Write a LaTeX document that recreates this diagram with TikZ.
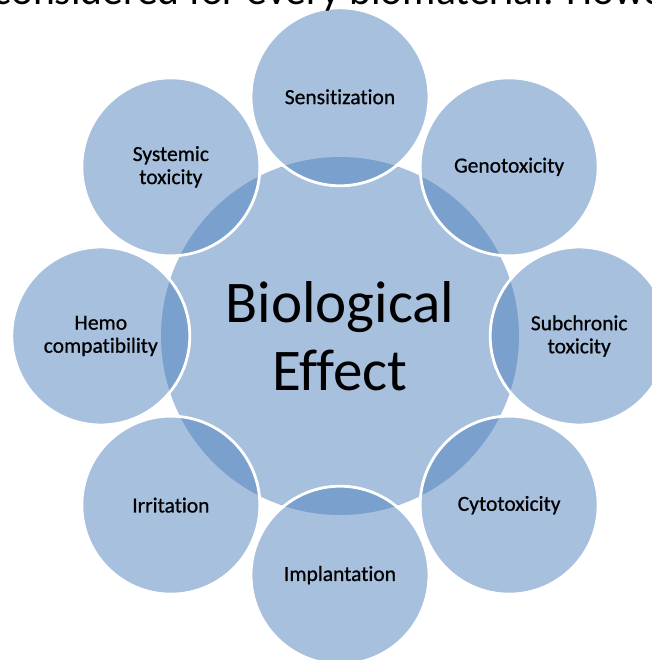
\documentclass[tikz,border=0pt]{standalone}
\usepackage{fontspec}
\setmainfont{Carlito}[Ligatures=NoCommon]
\newfontfamily\labelfont{Carlito}[Ligatures=NoCommon,RawFeature={embolden=0.7}]
\usetikzlibrary{positioning}
\definecolor{accent}{RGB}{79,129,189}
\tikzset{
    hub/.style =    {circle,
                    fill=accent!50!white,
                    draw=none,
                    text=black,
                    align=center,
                    minimum size=8.95cm,
                    font=\fontsize{42}{48}\selectfont},
    test/.style =   {circle,
                    fill=accent,
                    fill opacity=0.5,
                    text opacity=1,
                    draw=white,
                    line width=2pt,
                    text=black,
                    align=center,
                    minimum size=4.45cm,
                    font=\labelfont\fontsize{15.3}{16.4}\selectfont},
    running/.style = {anchor=base west,
                    inner sep=0pt,
                    text=black,
                    font=\fontsize{29.6}{34}\selectfont}}

\begin{document}
\begin{tikzpicture}[node distance=5.98cm]
                \useasboundingbox (-8.5,-8.1) rectangle (7.8,8.4);
                \clip (-8.5,-8.1) rectangle (7.8,8.4);

                \node[hub]      (bio)    at (0,0)                 {Biological\\Effect};
                \node[test]     (sens)   [above of=bio]           {Sensitization};
                \node[test]     (geno)   [above right of=bio]     {Genotoxicity};
                \node[test]     (subchr) [right of=bio]           {Subchronic\\toxicity};
                \node[test]     (cyto)   [below right of=bio]     {Cytotoxicity};
                \node[test]     (impl)   [below of=bio]           {Implantation};
                \node[test]     (irr)    [below left of=bio]      {Irritation};
                \node[test]     (hemo)   [left of=bio]            {Hemo\\compatibility};
                \node[test]     (syst)   [above left of=bio]      {Systemic\\toxicity};

                % text line running above the chart
                \node[running]  (line)   at (-8.66,8.3)           {considered for every biomaterial. Howe};
        \end{tikzpicture}
\end{document}
